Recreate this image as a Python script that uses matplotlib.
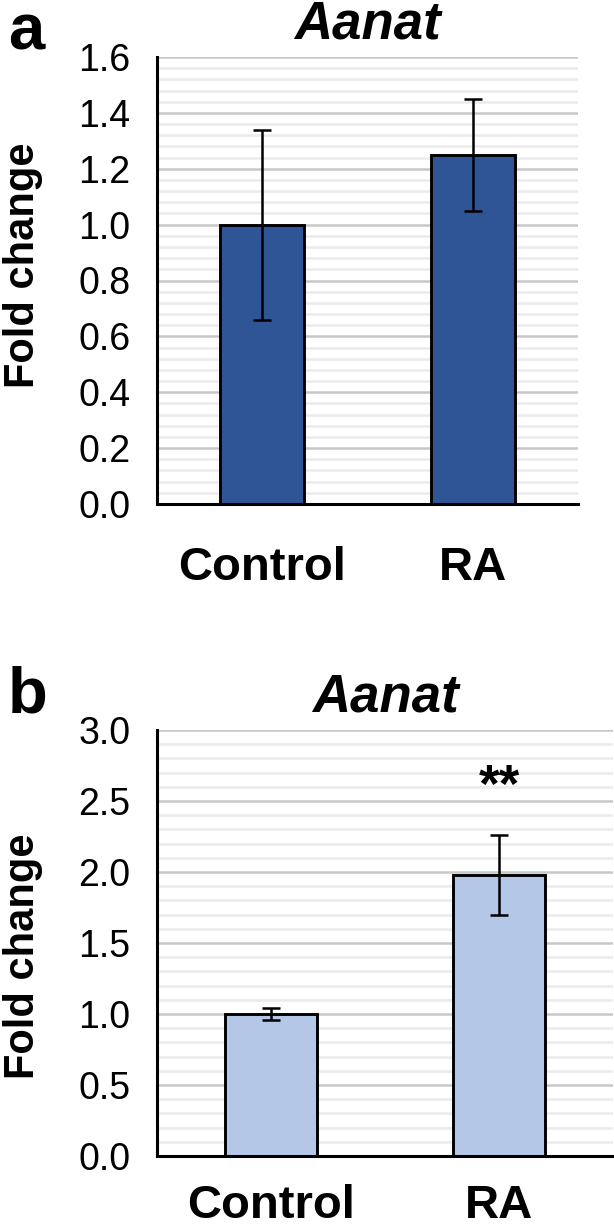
import matplotlib
matplotlib.use("Agg")
import matplotlib.pyplot as plt
from matplotlib.ticker import MultipleLocator

plt.rcParams['font.family'] = ['Liberation Sans', 'DejaVu Sans']

# data
groups = ["Control", "RA"]
gene = "Aanat"

a_mean = [1.00, 1.25]
a_err = [0.34, 0.20]

b_mean = [1.00, 1.98]
b_err = [0.045, 0.28]
b_sig = ["", "**"]

W, H = 614, 1227
fig = plt.figure(figsize=(W / 100, H / 100), dpi=100)


def px_axes(left, right, top, bottom):
    return fig.add_axes([left / W, (H - bottom) / H, (right - left) / W, (bottom - top) / H])


def draw_panel(ax, means, errs, color, ymax, major, minor, xpad, label_y, sig=None):
    x = range(len(groups))
    ax.set_axisbelow(True)
    ax.bar(x, means, width=0.40, color=color, edgecolor="black", linewidth=2.1, zorder=2)
    ax.errorbar(x, means, yerr=errs, fmt="none", ecolor="black", elinewidth=1.8,
                capsize=6.8, capthick=1.8, zorder=3)
    ax.set_xlim(-0.5, len(groups) - 0.5)
    ax.set_ylim(0, ymax)
    ax.yaxis.set_major_locator(MultipleLocator(major))
    ax.yaxis.set_minor_locator(MultipleLocator(minor))
    ax.yaxis.grid(True, which="minor", color="#EBEBEB", linewidth=1.8)
    ax.yaxis.grid(True, which="major", color="#C8C8C8", linewidth=1.8)
    ax.set_yticklabels([f"{v:.1f}" for v in ax.get_yticks()])
    ax.set_xticks(list(x))
    ax.set_xticklabels(groups, fontsize=34, fontweight="bold")
    ax.tick_params(axis="y", which="both", length=0, pad=19, labelsize=27)
    ax.tick_params(axis="x", length=0, pad=xpad)
    for s in ["top", "right"]:
        ax.spines[s].set_visible(False)
    for s in ["left", "bottom"]:
        ax.spines[s].set_linewidth(2.2)
        ax.spines[s].set_color("black")
    ax.set_title(gene, fontsize=38, fontweight="bold", fontstyle="italic", pad=13)
    ax.set_ylabel("Fold change", fontsize=30, fontweight="bold")
    width_px = ax.get_position().width * W
    ax.yaxis.set_label_coords((43 - 157) / width_px, label_y)
    if sig:
        for i, s in enumerate(sig):
            if s:
                ax.text(i, means[i] + errs[i] + 0.23, s, ha="center", va="baseline",
                        fontsize=38, fontweight="bold")


ax_a = px_axes(157, 578, 57, 504)
draw_panel(ax_a, a_mean, a_err, "#2F5597", 1.6, 0.2, 0.04, 30, 0.535)

ax_b = px_axes(157, 613, 730, 1156)
draw_panel(ax_b, b_mean, b_err, "#B4C7E7", 3.0, 0.5, 0.1, 20, 0.47, b_sig)

fig.text(8 / W, 1 - 2 / H, "a", fontsize=47, fontweight="bold", ha="left", va="top")
fig.text(8 / W, 1 - 666 / H, "b", fontsize=47, fontweight="bold", ha="left", va="top")

fig.savefig("out.png", dpi=100)
